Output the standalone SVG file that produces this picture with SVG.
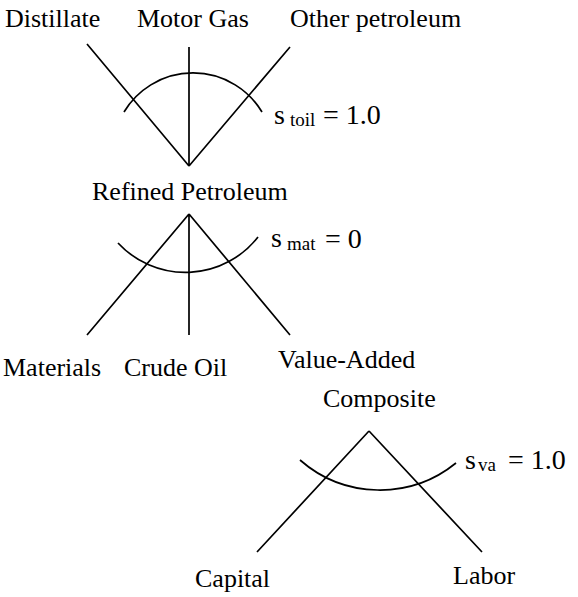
<svg xmlns="http://www.w3.org/2000/svg" width="578" height="597" viewBox="0 0 578 597" font-family="'Liberation Serif', Tinos, 'Times New Roman', 'DejaVu Serif', serif">
<style>
text{font-family:'Liberation Serif',Tinos,'Times New Roman','DejaVu Serif',serif;fill:#000;font-size:26px}
.big{font-size:28px}
.sub{font-size:19px}
.ln{stroke:#000;stroke-width:1.7;fill:none}
</style>
<rect width="578" height="597" fill="#fff"/>
<g id="connectors">
<path class="ln" d="M87,44 L189,166 M189,47 L189,166 M290,47 L189,166"/>
<path class="ln" d="M189,214 L87,335 M189,214 L189,335 M189,214 L290,335"/>
<path class="ln" d="M369,431 L257,552 M369,431 L482,552"/>
<path class="ln" d="M124,112 A80.5,80.5 0 0 1 262,112"/>
<path class="ln" d="M118,243 A92,92 0 0 0 258,237"/>
<path class="ln" d="M300,460 A121,121 0 0 0 456,463"/>
</g>
<g id="distillate"><text x="5" y="27">Distillate</text></g>
<g id="motor-gas"><text x="137" y="27">Motor Gas</text></g>
<g id="other-petroleum"><text x="290" y="27">Other petroleum</text></g>
<g id="sigma-toil"><text class="big" x="274" y="124">s</text><text class="sub" x="290" y="126">toil</text><text class="big" x="323" y="124">= 1.0</text></g>
<g id="refined-petroleum"><text x="92" y="200">Refined Petroleum</text></g>
<g id="sigma-mat"><text class="big" x="271" y="247">s</text><text class="sub" x="287" y="250">mat</text><text class="big" x="325" y="248">= 0</text></g>
<g id="materials"><text x="3" y="376">Materials</text></g>
<g id="crude-oil"><text x="124" y="376">Crude Oil</text></g>
<g id="value-added"><text x="278" y="368">Value-Added</text><text x="323" y="407">Composite</text></g>
<g id="sigma-va"><text class="big" x="465" y="469">s</text><text class="sub" x="478" y="471">va</text><text class="big" x="508" y="469">= 1.0</text></g>
<g id="capital"><text x="195" y="587">Capital</text></g>
<g id="labor"><text x="453" y="584">Labor</text></g>
</svg>
